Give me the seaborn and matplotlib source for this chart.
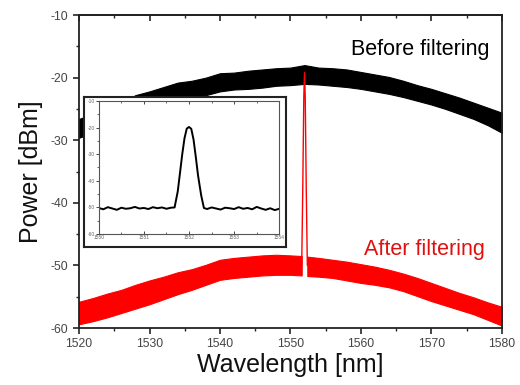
import numpy as np
import pandas as pd
import matplotlib
matplotlib.use('Agg')
import matplotlib.pyplot as plt
import seaborn as sns
from matplotlib.ticker import MultipleLocator

# spectrum envelopes (nm, dBm)
wavelength = [1520, 1522, 1524, 1526, 1528, 1530, 1532, 1534, 1536, 1538,
              1540, 1542, 1544, 1546, 1548, 1550, 1552, 1554, 1556, 1558,
              1560, 1562, 1564, 1566, 1568, 1570, 1572, 1574, 1576, 1578, 1580]
before_hi = [-26.6, -25.8, -24.9, -24.0, -22.8, -22.2, -21.5, -20.8, -20.5, -20.0,
             -19.3, -19.2, -18.9, -18.7, -18.5, -18.4, -18.0, -18.4, -18.5, -18.7,
             -19.1, -19.5, -19.9, -20.5, -21.2, -21.8, -22.5, -23.2, -24.0, -24.8, -25.6]
before_lo = [-29.6, -28.8, -27.9, -27.0, -26.0, -25.2, -24.5, -23.8, -23.2, -22.8,
             -22.2, -21.9, -21.8, -21.6, -21.3, -21.2, -21.0, -21.1, -21.3, -21.5,
             -21.8, -22.2, -22.6, -23.1, -23.7, -24.3, -25.0, -25.8, -26.6, -27.6, -28.8]

after_wl = [1520, 1522, 1524, 1526, 1528, 1530, 1532, 1534, 1536, 1538,
            1540, 1542, 1544, 1546, 1548, 1550, 1551.6, 1552.4, 1554, 1556, 1558,
            1560, 1562, 1564, 1566, 1568, 1570, 1572, 1574, 1576, 1578, 1580]
after_hi = [-55.8, -55.2, -54.5, -53.9, -53.1, -52.4, -51.8, -51.1, -50.6, -49.9,
            -49.1, -48.8, -48.6, -48.4, -48.3, -48.4, -48.5, -48.6, -48.8, -49.1, -49.4,
            -49.8, -50.2, -50.7, -51.3, -52.0, -52.8, -53.6, -54.4, -55.1, -55.9, -56.6]
after_lo = [-59.4, -58.9, -58.3, -57.6, -56.9, -56.2, -55.4, -54.6, -53.9, -53.1,
            -52.3, -52.0, -51.8, -51.6, -51.5, -51.5, -51.6, -51.7, -51.8, -52.0, -52.4,
            -52.8, -53.1, -53.5, -54.1, -54.9, -55.7, -56.4, -57.1, -57.8, -58.7, -59.6]

# filtered line (red spike)
spike_wl = [1551.6, 1551.75, 1551.9, 1552.0, 1552.1, 1552.25, 1552.4]
spike_pw = [-50.0, -38.0, -23.0, -19.2, -23.0, -38.0, -50.0]

# inset: zoom on the filter passband
inset_wl = [1550.0, 1550.1, 1550.2, 1550.3, 1550.4, 1550.5, 1550.6, 1550.7, 1550.8, 1550.9,
            1551.0, 1551.1, 1551.2, 1551.3, 1551.4, 1551.5, 1551.6, 1551.68, 1551.75, 1551.8,
            1551.85, 1551.9, 1551.95, 1552.0, 1552.05, 1552.1, 1552.15, 1552.2, 1552.27, 1552.33,
            1552.4, 1552.5, 1552.6, 1552.7, 1552.8, 1552.9, 1553.0, 1553.1, 1553.2, 1553.3,
            1553.4, 1553.5, 1553.6, 1553.7, 1553.8, 1553.9, 1554.0]
inset_pw = [-50.2, -50.7, -49.9, -50.4, -50.9, -50.1, -50.5, -50.3, -49.8, -50.4,
            -50.2, -50.6, -49.9, -50.3, -50.0, -50.5, -50.1, -50.0, -44.0, -37.0,
            -30.0, -24.0, -20.4, -19.8, -20.5, -24.5, -31.0, -38.0, -45.5, -50.2,
            -50.6, -50.0, -50.4, -50.8, -50.1, -50.3, -50.6, -49.9, -50.5, -50.2,
            -50.7, -49.8, -50.4, -50.9, -50.3, -51.0, -50.5]

sns.set_style('ticks')
plt.rcParams['font.family'] = ['Liberation Sans', 'DejaVu Sans']
plt.rcParams['axes.unicode_minus'] = False

fig = plt.figure(figsize=(5.2, 3.85), dpi=100)
ax = fig.add_axes([0.152, 0.148, 0.813, 0.813])

# before filtering (black noisy band)
ax.fill_between(wavelength, before_lo, before_hi, color='black', lw=0.8)

# after filtering (red band split around the spike)
aw = np.array(after_wl)
left = aw <= 1551.6
right = aw >= 1552.4
ax.fill_between(aw[left], np.array(after_lo)[left], np.array(after_hi)[left],
                color='#ff0000', lw=0.8)
ax.fill_between(aw[right], np.array(after_lo)[right], np.array(after_hi)[right],
                color='#ff0000', lw=0.8)
sns.lineplot(x=spike_wl, y=spike_pw, ax=ax, color='#ff0000', lw=1.0, sort=False)

ax.set_xlim(1520, 1580)
ax.set_ylim(-60, -10)
ax.xaxis.set_major_locator(MultipleLocator(10))
ax.xaxis.set_minor_locator(MultipleLocator(5))
ax.yaxis.set_major_locator(MultipleLocator(10))
ax.yaxis.set_minor_locator(MultipleLocator(5))
ax.tick_params(axis='both', which='major', length=4, width=1.2, labelsize=8.8,
               labelcolor='#444444', direction='out')
ax.tick_params(axis='both', which='minor', length=2.5, width=1.0, direction='out')
for s in ax.spines.values():
    s.set_linewidth(1.3)
    s.set_color('#222222')
secx = ax.secondary_xaxis('top')
secx.xaxis.set_major_locator(MultipleLocator(10))
secx.xaxis.set_minor_locator(MultipleLocator(5))
secx.tick_params(which='major', direction='in', length=4, width=1.2, labeltop=False)
secx.tick_params(which='minor', direction='in', length=2.5, width=1.0)
secx.spines['top'].set_linewidth(1.3)

ax.set_xlabel('Wavelength [nm]', fontsize=18, labelpad=2, color='#111111')
ax.set_ylabel('Power [dBm]', fontsize=18, labelpad=6, color='#111111')

ax.text(1578.3, -16.4, 'Before filtering', fontsize=15.5, color='black', ha='right', va='baseline')
ax.text(1577.6, -48.3, 'After filtering', fontsize=15.5, color='#e01010', ha='right', va='baseline')

# inset frame
frame = fig.add_axes([0.1615, 0.358, 0.388, 0.390])
frame.set_xticks([])
frame.set_yticks([])
frame.set_facecolor('white')
for s in frame.spines.values():
    s.set_linewidth(1.5)
    s.set_color('#222222')

ins = fig.add_axes([0.190, 0.392, 0.347, 0.346])
sns.lineplot(x=inset_wl, y=inset_pw, ax=ins, color='black', lw=1.4, sort=False)
ins.set_xlim(1550, 1554)
ins.set_ylim(-60, -10)
ins.xaxis.set_major_locator(MultipleLocator(1))
ins.xaxis.set_minor_locator(MultipleLocator(0.5))
ins.yaxis.set_major_locator(MultipleLocator(10))
ins.yaxis.set_minor_locator(MultipleLocator(5))
ins.tick_params(which='major', length=2, width=0.6, labelsize=3.5, labelcolor='#666666', pad=1)
ins.tick_params(which='minor', length=1.2, width=0.5)
ins.tick_params(axis='x', which='both', top=True, direction='in')
for s in ins.spines.values():
    s.set_linewidth(0.8)
    s.set_color('#555555')
ins.set_xlabel('')
ins.set_ylabel('')

fig.savefig('out.png', dpi=100)
